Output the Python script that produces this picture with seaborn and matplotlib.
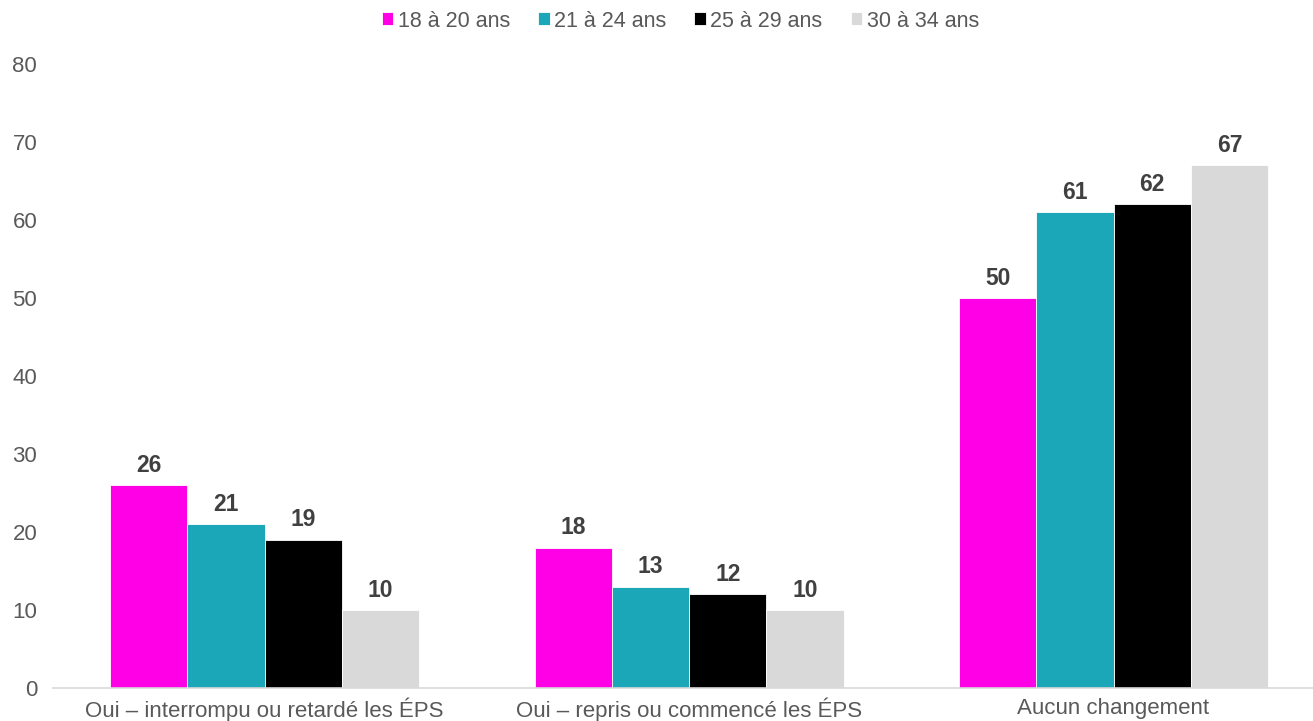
import pandas as pd
import seaborn as sns
import matplotlib.pyplot as plt

# data
categories = ["Oui – interrompu ou retardé les ÉPS",
              "Oui – repris ou commencé les ÉPS",
              "Aucun changement"]
groups = ["18 à 20 ans", "21 à 24 ans", "25 à 29 ans", "30 à 34 ans"]
v_18_20 = [26, 18, 50]
v_21_24 = [21, 13, 61]
v_25_29 = [19, 12, 62]
v_30_34 = [10, 10, 67]
colors = ["#FF00E6", "#1CA7B8", "#000000", "#D9D9D9"]

rows = []
for g, vals in zip(groups, [v_18_20, v_21_24, v_25_29, v_30_34]):
    for c, v in zip(categories, vals):
        rows.append({"cat": c, "groupe": g, "val": v})
df = pd.DataFrame(rows)

sns.set_style("white")
plt.rcParams["font.family"] = ["Liberation Sans", "DejaVu Sans"]

fig = plt.figure(figsize=(13.13, 7.21), dpi=100)
ax = fig.add_axes([0.040, 0.0458, 0.960, 0.8653])

sns.barplot(data=df, x="cat", y="val", hue="groupe", order=categories,
            hue_order=groups, palette=colors, width=0.728, gap=0,
            saturation=1, errorbar=None, ax=ax, edgecolor="white", linewidth=0.6)

for cont in ax.containers:
    ax.bar_label(cont, fmt="%d", padding=6, fontsize=16.5, fontweight="bold", color="#404040")

ax.set_ylim(0, 80)
ax.set_xlim(-0.5, 2.47)
ax.set_yticks(range(0, 81, 10))
ax.tick_params(axis="y", length=0, labelsize=16, labelcolor="#595959", pad=11)
ax.tick_params(axis="x", length=0, labelsize=16, labelcolor="#595959", pad=7)
ax.set_xlabel("")
ax.set_ylabel("")
for s in ["top", "right", "left"]:
    ax.spines[s].set_visible(False)
ax.spines["bottom"].set_color("#D9D9D9")
ax.spines["bottom"].set_linewidth(1.2)

handles, labels = ax.get_legend_handles_labels()
ax.legend(handles, labels, loc="center", bbox_to_anchor=(0.498, 1.069), ncol=4,
          frameon=False, fontsize=15.5, labelcolor="#595959", handlelength=0.55,
          handleheight=0.55, handletextpad=0.2, columnspacing=1.3)

fig.savefig("out.png", dpi=100)
